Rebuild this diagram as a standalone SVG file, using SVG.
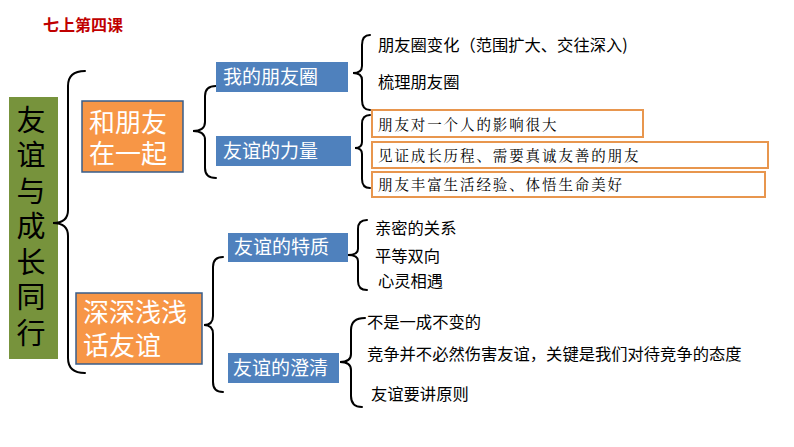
<svg xmlns="http://www.w3.org/2000/svg" width="794" height="447" viewBox="0 0 794 447">
<style>
.brace{fill:none;stroke:#000;stroke-width:2;stroke-linecap:round}
.green{fill:#77933c}
.orange{fill:#f79646;stroke:#385d8a;stroke-width:1.5}
.blue{fill:#4f81bd}
.ob{fill:#fff;stroke:#e8964e;stroke-width:2}
.t{font-family:"Noto Sans CJK SC",sans-serif}
.big{font-family:"Liberation Sans","Noto Sans CJK SC",sans-serif;font-size:26px;fill:#fff}
.bt{font-size:19px;fill:#fff}
.it{font-size:16.3px;fill:#000}
.kt{font-family:"Noto Serif CJK SC","Noto Sans CJK SC",serif;font-size:14.5px;fill:#000;letter-spacing:1.9px}
</style>
<rect width="794" height="447" fill="#fff"/>
<text x="43" y="31" font-family="Liberation Serif,'Noto Sans CJK SC',serif" font-size="16" font-weight="bold" fill="#c00000">七上第四课</text>

<g id="root">
<rect class="green" x="9" y="97" width="49" height="262"/>
<text class="t" x="31" y="105" font-size="29" fill="#000" style="writing-mode:vertical-rl;letter-spacing:6.5px">友谊与成长同行</text>
</g>

<g id="connectors">
<path class="brace" d="M85,71 Q68,71 68,86 L68,210 Q68,223 53,223 Q68,223 68,236 L68,358 Q68,373 85,373"/>
<path class="brace" d="M216,86 Q205,86 205,96 L205,122 Q205,131 193,131 Q205,131 205,140 L205,168 Q205,178 216,178"/>
<path class="brace" d="M223,257 Q213,257 213,267 L213,316 Q213,325 204,325 Q213,325 213,334 L213,382 Q213,392 223,392"/>
<path class="brace" d="M370,35 Q362,35 362,45 L362,66 Q362,73 353,73 Q362,73 362,80 L362,100 Q362,110 370,110"/>
<path class="brace" d="M370,115 Q362,115 362,124 L362,142 Q362,148 355,148 Q362,148 362,154 L362,179 Q362,188 370,188"/>
<path class="brace" d="M367,220 Q358,220 358,229 L358,249 Q358,255 348,255 Q358,255 358,261 L358,281 Q358,290 367,290"/>
<path class="brace" d="M365,318 Q351,318 351,330 L351,354 Q351,362 340,362 Q351,362 351,370 L351,396 Q351,407 362,407"/>
</g>

<g id="n-hepengyou">
<rect class="orange" x="82" y="101" width="101" height="71"/>
<text class="big"><tspan x="89" y="132">和朋友</tspan><tspan x="89" y="163">在一起</tspan></text>
</g>
<g id="n-shenshen">
<rect class="orange" x="76" y="293" width="126" height="71"/>
<text class="big"><tspan x="83" y="322">深深浅浅</tspan><tspan x="83" y="355">话友谊</tspan></text>
</g>

<g id="n-pengyouquan">
<rect class="blue" x="216" y="62" width="132" height="30"/>
<text class="t bt" x="223" y="84">我的朋友圈</text>
</g>
<g id="n-liliang">
<rect class="blue" x="216" y="136" width="135" height="30"/>
<text class="t bt" x="223" y="158">友谊的力量</text>
</g>
<g id="n-tezhi">
<rect class="blue" x="228" y="233" width="120" height="29"/>
<text class="t bt" x="234" y="254">友谊的特质</text>
</g>
<g id="n-chengqing">
<rect class="blue" x="228" y="353" width="111" height="30"/>
<text class="t bt" x="233" y="375">友谊的澄清</text>
</g>

<g id="n-q1"><text class="t it" x="378" y="51">朋友圈变化（范围扩大、交往深入)</text></g>
<g id="n-q2"><text class="t it" x="378" y="88">梳理朋友圈</text></g>

<g id="n-l1">
<rect class="ob" x="372" y="110" width="271" height="27"/>
<text class="kt" x="378" y="130">朋友对一个人的影响很大</text>
</g>
<g id="n-l2">
<rect class="ob" x="372" y="142" width="396" height="26"/>
<text class="kt" x="378" y="161">见证成长历程、需要真诚友善的朋友</text>
</g>
<g id="n-l3">
<rect class="ob" x="372" y="172" width="393" height="25"/>
<text class="kt" x="378" y="190">朋友丰富生活经验、体悟生命美好</text>
</g>

<g id="n-t1"><text class="t it" x="375" y="234">亲密的关系</text></g>
<g id="n-t2"><text class="t it" x="375" y="262">平等双向</text></g>
<g id="n-t3"><text class="t it" x="378" y="287">心灵相遇</text></g>

<g id="n-c1"><text class="t it" x="367" y="328">不是一成不变的</text></g>
<g id="n-c2"><text class="t it" x="367" y="360">竞争并不必然伤害友谊，关键是我们对待竞争的态度</text></g>
<g id="n-c3"><text class="t it" x="371" y="400">友谊要讲原则</text></g>
</svg>
